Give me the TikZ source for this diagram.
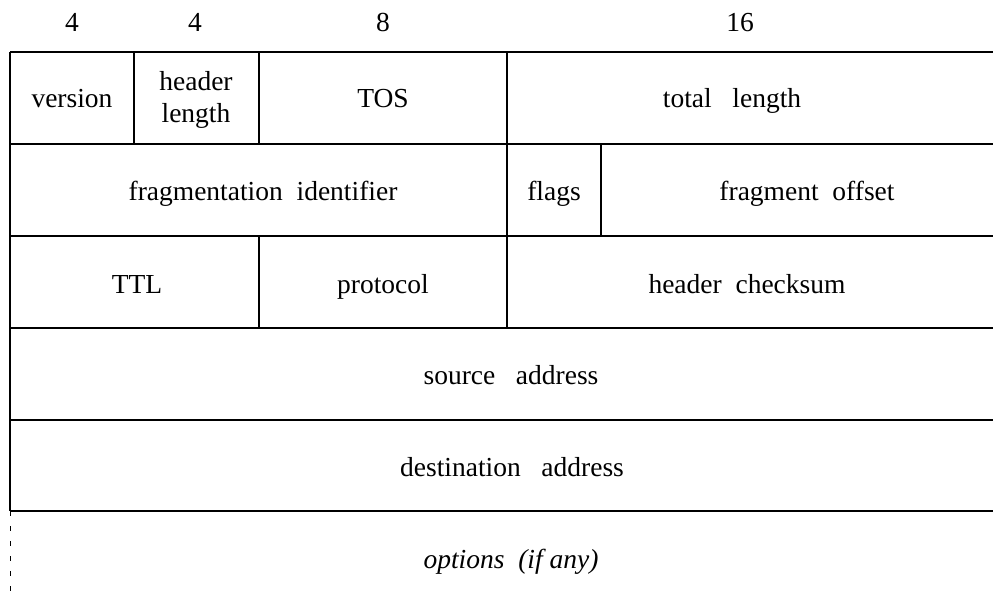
\documentclass[tikz,border=0pt]{standalone}
\usepackage{fontspec}
\setmainfont{Liberation Serif}
\usepackage{tikz}
\usetikzlibrary{positioning,calc}
\newcommand{\fieldfont}{\fontsize{27.5}{32}\selectfont}

\begin{document}
\begin{tikzpicture}[
    x=1pt, y=-1pt,
    field/.style={anchor=base, inner sep=0pt, align=center, font=\fieldfont},
    bits/.style={anchor=base, inner sep=0pt, font=\fieldfont},
    rule/.style={line width=1.2pt},
    openrule/.style={line width=1pt, dash pattern=on 5pt off 10pt}
]
\useasboundingbox (0,0) rectangle (993,599);

% Field widths
\node[bits] (w1) at (72,32) {4};
\node[bits] (w2) at (195,32) {4};
\node[bits] (w3) at (383,32) {8};
\node[bits] (w4) at (740,32) {16};

% Horizontal rules
\foreach \y in {52,144,236,328,420,511}
    \draw[rule] (10,\y) -- (993,\y);

% Left edge, open at the bottom
\coordinate (top) at (10,52);
\coordinate (mid) at (10,511);
\coordinate (bot) at (10,599);
\draw[rule] (top) -- (mid);
\draw[openrule] (mid) -- (bot);

% Field separators
\draw[rule] (134,52) -- (134,144);
\draw[rule] (259,52) -- (259,144);
\draw[rule] (507,52) -- (507,328);
\draw[rule] (601,144) -- (601,236);
\draw[rule] (259,236) -- (259,328);

% Row 1
\node[field] (ver) at (72,108) {version};
\node[field] (hlen) at (196,123) {header\\length};
\node[field] (tos) at (383,108) {TOS};
\node[field] (totlen) at (732,108) {total~~~length};

% Row 2
\node[field] (fragid) at (263,200) {fragmentation~~identifier};
\node[field] (flags) at (554,200) {flags};
\node[field] (fragoff) at (807,200) {fragment~~offset};

% Row 3
\node[field] (ttl) at (137,293) {TTL};
\node[field] (proto) at (383,293) {protocol};
\node[field] (hcsum) at (747,293) {header~~checksum};

% Rows 4 to 6
\node[field] (src) at (511,384) {source~~~address};
\node[field] (dst) at (512,476) {destination~~~address};
\node[field] (opt) at (511,568) {\itshape options~~(if any)};

\end{tikzpicture}
\end{document}
